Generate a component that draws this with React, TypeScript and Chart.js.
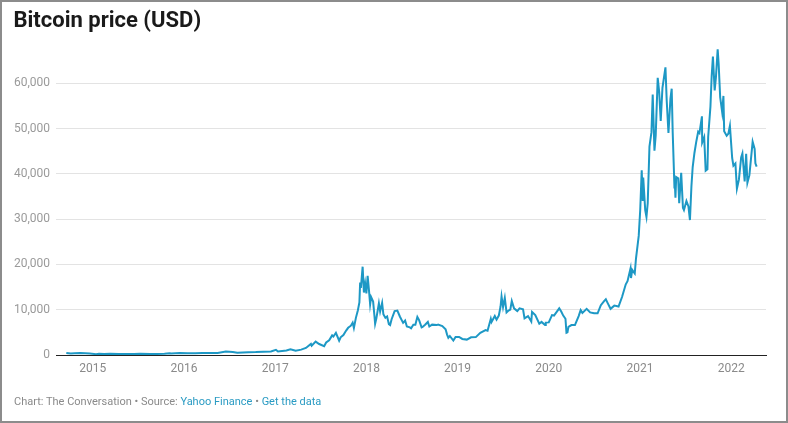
import React, { useEffect, useRef } from "react";
import { Chart, registerables } from "chart.js";

Chart.register(...registerables);

const dates: string[] = [
  "2014-09-17","2014-10-05","2014-10-20","2014-11-12","2014-12-01","2014-12-20",
  "2015-01-14","2015-01-26","2015-02-15","2015-03-12","2015-04-14","2015-05-15","2015-06-15","2015-07-10","2015-08-18","2015-09-15","2015-10-15","2015-11-04","2015-11-11","2015-12-15",
  "2016-01-15","2016-02-15","2016-03-15","2016-04-15","2016-05-15","2016-06-17","2016-07-15","2016-08-02","2016-09-15","2016-10-15","2016-11-15","2016-12-15",
  "2017-01-04","2017-01-12","2017-02-15","2017-03-03","2017-03-24","2017-04-15","2017-05-04","2017-05-24","2017-05-27","2017-06-12","2017-06-26","2017-07-16","2017-07-24","2017-08-05","2017-08-17","2017-08-22","2017-09-01","2017-09-14","2017-09-20","2017-10-01","2017-10-12","2017-10-20","2017-10-31","2017-11-07","2017-11-12","2017-11-20","2017-11-28","2017-12-04","2017-12-07","2017-12-10","2017-12-17","2017-12-22","2017-12-27",
  "2018-01-01","2018-01-06","2018-01-12","2018-01-16","2018-01-20","2018-01-28","2018-02-02","2018-02-05","2018-02-10","2018-02-20","2018-02-25","2018-03-05","2018-03-10","2018-03-18","2018-03-25","2018-04-01","2018-04-06","2018-04-12","2018-04-24","2018-05-05","2018-05-15","2018-05-28","2018-06-05","2018-06-12","2018-06-24","2018-06-29","2018-07-08","2018-07-16","2018-07-24","2018-07-31","2018-08-10","2018-08-14","2018-08-24","2018-09-04","2018-09-10","2018-09-21","2018-10-10","2018-10-15","2018-11-01","2018-11-14","2018-11-20","2018-11-25","2018-12-01","2018-12-15","2018-12-24",
  "2019-01-07","2019-01-20","2019-02-07","2019-02-24","2019-03-15","2019-04-02","2019-04-23","2019-05-01","2019-05-14","2019-05-17","2019-05-30","2019-06-06","2019-06-15","2019-06-22","2019-06-26","2019-07-02","2019-07-09","2019-07-16","2019-07-24","2019-07-31","2019-08-06","2019-08-15","2019-08-28","2019-09-06","2019-09-20","2019-09-26","2019-10-10","2019-10-23","2019-10-26","2019-11-08","2019-11-24","2019-12-03","2019-12-17","2019-12-20",
  "2020-01-01","2020-01-14","2020-01-22","2020-02-12","2020-02-20","2020-02-28","2020-03-08","2020-03-12","2020-03-16","2020-03-20","2020-04-01","2020-04-15","2020-04-30","2020-05-08","2020-05-15","2020-06-01","2020-06-15","2020-07-01","2020-07-15","2020-07-28","2020-08-10","2020-08-17","2020-08-25","2020-09-05","2020-09-20","2020-10-07","2020-10-21","2020-11-05","2020-11-12","2020-11-24","2020-11-26","2020-12-01","2020-12-11","2020-12-16","2020-12-27",
  "2021-01-02","2021-01-08","2021-01-12","2021-01-14","2021-01-22","2021-01-27","2021-02-01","2021-02-08","2021-02-16","2021-02-21","2021-02-28","2021-03-05","2021-03-13","2021-03-19","2021-03-25","2021-04-01","2021-04-13","2021-04-18","2021-04-25","2021-05-03","2021-05-08","2021-05-12","2021-05-19","2021-05-21","2021-05-23","2021-05-26","2021-06-03","2021-06-07","2021-06-15","2021-06-22","2021-06-26","2021-07-06","2021-07-14","2021-07-20","2021-07-26","2021-07-31","2021-08-07","2021-08-14","2021-08-22","2021-08-27","2021-09-06","2021-09-07","2021-09-15","2021-09-21","2021-09-28","2021-10-01","2021-10-10","2021-10-15","2021-10-20","2021-10-27","2021-11-01","2021-11-08","2021-11-12","2021-11-18","2021-11-26","2021-12-01","2021-12-04","2021-12-14","2021-12-21","2021-12-27",
  "2022-01-05","2022-01-10","2022-01-18","2022-01-24","2022-02-01","2022-02-10","2022-02-15","2022-02-24","2022-03-02","2022-03-07","2022-03-15","2022-03-28","2022-04-05","2022-04-08","2022-04-13"
];

const prices: number[] = [
  457,320,383,423,379,330,
  178,273,234,296,219,237,236,284,211,230,254,403,311,465,
  374,400,415,430,457,750,665,515,608,638,711,779,
  1150,780,1008,1280,937,1180,1550,2440,2050,2950,2420,1930,2760,3250,4330,4090,4900,3150,3900,4400,5400,6000,6470,7150,5950,8200,9900,11600,16000,14800,19500,13800,15800,
  13600,17500,13900,11200,12800,11800,8800,6900,8100,11400,9600,11500,9000,8200,8500,6800,6600,7900,9700,9800,8500,7100,7600,6300,6100,5900,6700,6700,8400,7700,6100,6200,6700,7300,6300,6700,6600,6700,6400,5700,4500,3800,4200,3200,4000,
  4000,3550,3400,3900,3950,4900,5500,5350,8000,7300,8600,7800,8700,10700,12900,10600,12600,9400,9800,10000,11900,10300,9700,10300,10100,8100,8600,7400,9500,8800,6900,7300,6600,7150,
  7200,8800,8700,10300,9600,8700,8000,4900,5000,6200,6600,6600,8600,9900,9300,10200,9400,9200,9200,11000,11900,12300,11400,10200,10900,10700,12800,15600,16300,19100,17000,18800,18000,21300,26300,
  32000,40800,34000,39200,32000,30500,33500,46000,49200,57500,45100,48500,61200,58000,51700,59000,63500,56200,49000,56600,58800,49200,37000,37300,34700,39300,39000,33500,40200,32500,32000,34000,32800,29800,37300,41500,44600,47000,49300,49000,52700,46900,48100,40700,41000,48200,54800,61600,65900,58400,61300,67500,64200,56900,53600,57200,49400,48400,48900,50600,
  43500,41800,42300,36700,38700,43600,44500,38300,44400,38000,39700,47100,45500,42300,41600
];

const yTicks: number[] = [0, 10000, 20000, 30000, 40000, 50000, 60000];
const xTicks: number[] = [2015, 2016, 2017, 2018, 2019, 2020, 2021, 2022];

function toYear(d: string): number {
  const [y, m, dd] = d.split("-").map(Number);
  const start = Date.UTC(y, 0, 1);
  const end = Date.UTC(y + 1, 0, 1);
  const t = Date.UTC(y, m - 1, dd);
  return y + (t - start) / (end - start);
}

export default function App() {
  const ref = useRef<HTMLCanvasElement | null>(null);

  useEffect(() => {
    document.body.style.margin = "0";
    const canvas = ref.current;
    if (!canvas) return;
    const points = dates.map((d, i) => ({ x: toYear(d), y: prices[i] }));
    const chart = new Chart(canvas, {
      type: "line",
      data: {
        datasets: [
          {
            data: points,
            borderColor: "#1d98c5",
            borderWidth: 2,
            pointRadius: 0,
            tension: 0,
            fill: false,
          },
        ],
      },
      options: {
        animation: false,
        responsive: false,
        maintainAspectRatio: false,
        layout: { padding: { top: 47, right: 22, bottom: 0, left: 0 } },
        plugins: { legend: { display: false }, tooltip: { enabled: false }, title: { display: false } },
        scales: {
          x: {
            type: "linear",
            min: 2014.5965,
            max: 2022.382,
            afterBuildTicks: (s: any) => {
              s.ticks = xTicks.map((v) => ({ value: v }));
            },
            afterFit: (s: any) => {
              s.height = 68;
            },
            grid: { display: false, drawTicks: false },
            border: { display: true, color: "#222", width: 1 },
            ticks: {
              autoSkip: false,
              maxRotation: 0,
              padding: 7,
              color: "#8a8a8a",
              font: { family: "Roboto", size: 12 },
              callback: (v: any) => String(v),
            },
          },
          y: {
            type: "linear",
            min: 0,
            max: 68000,
            afterBuildTicks: (s: any) => {
              s.ticks = yTicks.map((v) => ({ value: v }));
            },
            afterFit: (s: any) => {
              s.width = 56;
            },
            grid: {
              drawTicks: false,
              color: (c: any) => (c.tick && c.tick.value === 0 ? "#222" : "#e3e3e3"),
              lineWidth: 1,
            },
            border: { display: false },
            ticks: {
              padding: 6,
              color: "#9a9a9a",
              font: { family: "Roboto", size: 12 },
              callback: (v: any) => Number(v).toLocaleString("en-US"),
            },
          },
        },
      },
    });
    return () => chart.destroy();
  }, []);

  return (
    <div
      style={{
        position: "relative",
        width: 788,
        height: 423,
        boxSizing: "border-box",
        border: "2px solid #8c8c8c",
        background: "#fff",
        overflow: "hidden",
        fontFamily: "Roboto, sans-serif",
      }}
    >
      <canvas
        ref={ref}
        width={788}
        height={423}
        style={{ position: "absolute", left: -2, top: -2, width: 788, height: 423 }}
      />
      <div
        style={{
          position: "absolute",
          left: 11.5,
          top: 4.5,
          fontSize: 22,
          lineHeight: "26px",
          fontWeight: 700,
          color: "#1a1a1a",
        }}
      >
        Bitcoin price (USD)
      </div>
      <div
        style={{
          position: "absolute",
          left: 12,
          top: 393,
          fontSize: 11,
          lineHeight: "14px",
          color: "#8a8a8a",
          whiteSpace: "nowrap",
        }}
      >
        Chart: The Conversation • Source: <span style={{ color: "#2a9bc3" }}>Yahoo Finance</span> •{" "}
        <span style={{ color: "#2a9bc3" }}>Get the data</span>
      </div>
    </div>
  );
}
